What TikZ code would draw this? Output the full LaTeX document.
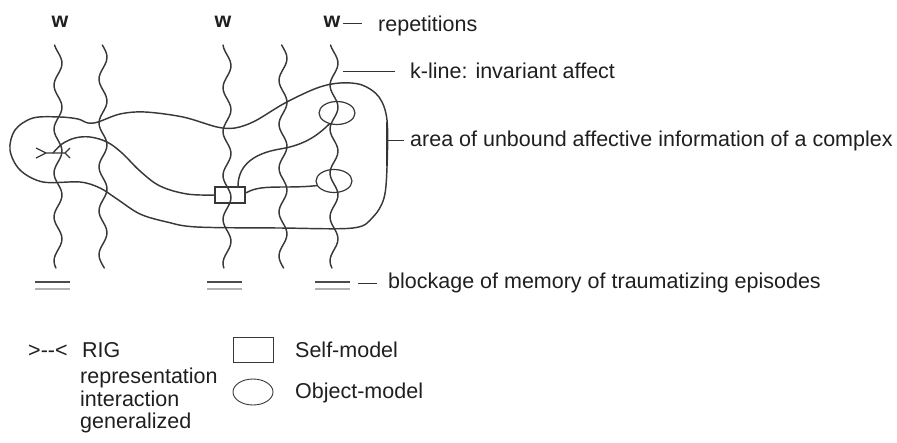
\documentclass[tikz,border=0pt]{standalone}
\usepackage{fontspec}
\setmainfont{Liberation Sans}
\usepackage{xcolor}
\usepackage{tikz}
\usetikzlibrary{shapes,arrows,positioning,calc,fit}

\begin{document}
\begin{tikzpicture}[
    x=1pt, y=-1pt,
    wire/.style={line width=1.45pt, draw=black!78, line join=round, line cap=round},
    thinwire/.style={line width=1.2pt, draw=black!78},
    leader/.style={line width=1pt, draw=black!80},
    note/.style={anchor=base west, inner sep=0pt, text=black!88, font=\fontsize{21.5}{23}\selectfont},
    wmark/.style={anchor=base, inner sep=0pt, text=black!88, font=\fontsize{21.5}{23}\selectfont\bfseries},
    selfbox/.style={rectangle, draw=black!78, line width=1.2pt, minimum width=30pt, minimum height=16pt, inner sep=0pt},
    objring/.style={ellipse, draw=black!78, line width=1.2pt, minimum width=36pt, minimum height=23pt, inner sep=0pt}
]
    \useasboundingbox (0,0) rectangle (897,442);

    % k-lines
    \foreach \kx/\ph in {58/300, 103/350, 227/280, 283/340, 334/300}
        \draw[wire] plot[domain=45:268, samples=70, smooth] ({\kx+4*sin(8.2*(\x-45)+\ph)}, \x);

    % area of the complex
    \draw[wire] plot[smooth cycle, tension=0.55] coordinates {
        (10,150) (15,130) (33,118) (60,117) (78,119) (88,123) (98,122) (120,114)
        (145,112) (183,117) (217,127) (235,128) (255,121) (285,103) (317,88)
        (340,83) (362,85) (379,97) (387,120) (387,167) (384,198) (373,217)
        (353,228) (280,228) (197,227) (167,222) (140,214) (117,199) (100,188)
        (80,182) (43,182) (20,170)};
    \draw[line width=2.2pt, black!80] (387,122) -- (387,166);

    \coordinate (rig) at (53,153);
    \node[selfbox] (self) at (230,195) {};
    \node[objring] (objA) at (337,113) {};
    \node[objring] (objB) at (334,181) {};

    % RIG mark
    \draw[thinwire] (36,148) -- (46,153) -- (36,158) (46,153) -- (65,153)
        (70,148) -- (65,153) -- (70,158);

    \draw[wire] plot[smooth, tension=0.6] coordinates {(rig) (62,144) (75,138) (90,137)
        (107,142) (122,153) (140,171) (160,186) (187,194) (self.west)};
    \draw[wire] ([xshift=8pt]self.north) .. controls (238,168) and (250,154) .. (280,149)
        .. controls (305,145) and (318,135) .. (objA.235);
    \draw[wire] ([yshift=2pt]self.east) .. controls (255,188) and (262,187) .. (285,187)
        .. controls (305,187) and (312,186) .. (objB.195);

    % blockages
    \foreach \bx in {35,207,315} {
        \draw[line width=1.3pt, black!70] (\bx,282) -- ++(35,0);
        \draw[line width=1.1pt, black!30] (\bx,289) -- ++(35,0);
    }

    \node[wmark] (w1) at (60,27) {w};
    \node[wmark] (w2) at (223,27) {w};
    \node[wmark] (w3) at (332,27) {w};

    \node[note] (rep) at (378,31) {repetitions};
    \node[note] (kline) at (410,78) {k-line: invariant affect};
    \node[note] (area) at (410,146) {area of unbound affective information of a complex};
    \node[note] (block) at (388,288) {blockage of memory of traumatizing episodes};

    \coordinate (repL) at (343,23);
    \coordinate (klineL) at (343,71);
    \coordinate (areaL) at (388,140);
    \coordinate (blockL) at (358,283);
    \draw[leader] (repL) -- ++(19,0);
    \draw[leader] (klineL) -- ++(52,0);
    \draw[leader] (areaL) -- ++(16,0);
    \draw[leader] (blockL) -- ++(19,0);

    % legend
    \node[note] (rigsym) at (28,357) {>\mbox{-}\mbox{-}<};
    \node[note, base right=14pt of rigsym] (rigtxt) {RIG};
    \node[note] (rigrep) at (80,383) {representation};
    \node[note] (rigint) at (80,406) {interaction};
    \node[note] (riggen) at (80,428) {generalized};

    \node[selfbox, minimum width=40pt, minimum height=25pt, line width=0.9pt] (selfkey) at (253,350) {};
    \node[objring, minimum width=40pt, minimum height=26pt, line width=0.9pt] (objkey) at (253,392) {};
    \node[note] (selftxt) at (295,357) {Self-model};
    \node[note] (objtxt) at (295,398) {Object-model};
\end{tikzpicture}
\end{document}
